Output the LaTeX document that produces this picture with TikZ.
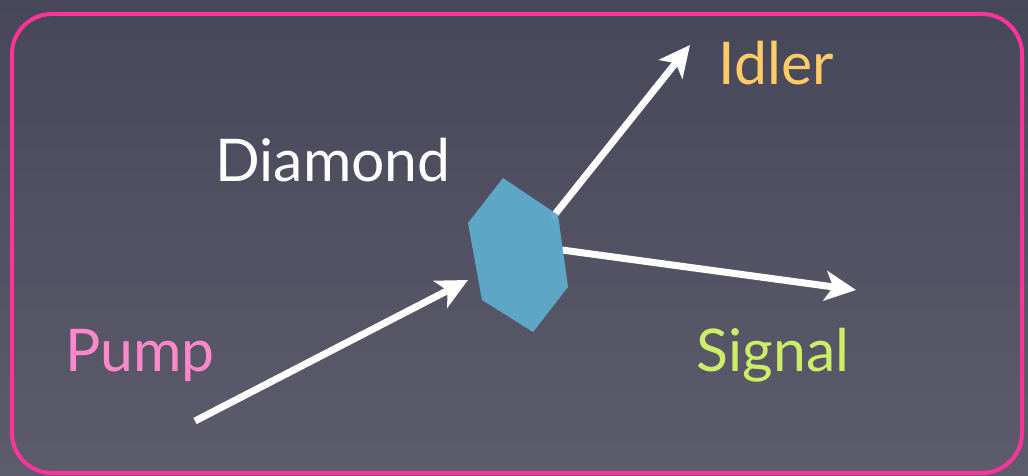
\documentclass[tikz,border=0pt]{standalone}
\usepackage{fontspec}
\setmainfont{Lato}
\usepackage{tikz}
\usetikzlibrary{arrows.meta,positioning,calc}
\definecolor{slatetop}{HTML}{47475A}
\definecolor{slatebot}{HTML}{5C5C6C}
\definecolor{framepink}{HTML}{FF3399}
\definecolor{crystal}{HTML}{5FABCB}
\definecolor{pumpcol}{HTML}{FF88CC}
\definecolor{idlercol}{HTML}{FFCC66}
\definecolor{signalcol}{HTML}{CCEE66}
\tikzset{
  beam/.style={draw=white, line width=0.14cm, -{Stealth[length=0.62cm,width=0.6cm,inset=0.16cm]}},
  tag/.style={font=\fontsize{33.5}{38}\selectfont}
}

\begin{document}
\begin{tikzpicture}[x=0.02cm,y=-0.02cm]
\useasboundingbox (0,0) rectangle (1028,476);
\shade [top color=slatetop, bottom color=slatebot] (0,0) rectangle (1028,476);
\draw [framepink, line width=0.08cm, rounded corners=0.8cm] (12,14) rectangle (1022,473);

% crystal corners
\coordinate (c1) at (503,178);
\coordinate (c2) at (468,223);
\coordinate (c3) at (482,300);
\coordinate (c4) at (533,332);
\coordinate (c5) at (568,287);
\coordinate (c6) at (558,215);

\coordinate (pumpin) at (195,421);
\coordinate (pumphit) at (468,280);
\coordinate (idlerout) at (690,45);
\coordinate (idlerin) at (552,218);
\coordinate (signalin) at (562,250);
\coordinate (signalout) at (856,290);

% beams
\draw [beam] (pumpin) -- (pumphit);
\draw [beam] (idlerin) -- (idlerout);
\draw [beam] (signalin) -- (signalout);
\fill [crystal, opacity=0.95] (c1) -- (c2) -- (c3) -- (c4) -- (c5) -- (c6) -- cycle;

\node (diamond) [tag, text=white] at (333,160) {Diamond};
\node (pump) [tag, text=pumpcol] at (140,355) {Pump};
\node (idler) [tag, text=idlercol] at (776,63) {Idler};
\node (signal) [tag, text=signalcol] at (773,355) {Signal};
\end{tikzpicture}
\end{document}
